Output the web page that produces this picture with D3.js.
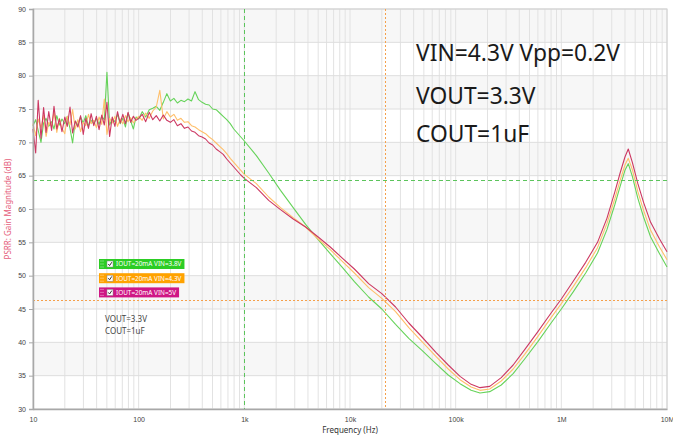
<!DOCTYPE html>
<html>
<head>
<meta charset="utf-8">
<script src="https://cdn.jsdelivr.net/npm/d3@7"></script>
<style>
  html, body { margin: 0; padding: 0; background: #fff; }
  svg { display: block; font-family: "Noto Sans", "Open Sans", sans-serif; }
</style>
</head>
<body>
<svg id="chart" width="673" height="443"></svg>
<script>
// frequency grid (Hz), shared by the three traces
var freqs = [
  10.0, 10.6, 11.2, 11.9, 12.6, 13.3, 14.1, 15.0, 15.8, 16.8,
  17.8, 18.8, 20.0, 21.1, 22.4, 23.7, 25.1, 26.6, 28.2, 29.9,
  31.6, 33.5, 35.5, 37.6, 39.8, 42.2, 44.7, 47.3, 50.1, 53.1,
  56.2, 59.6, 63.1, 66.8, 70.8, 75.0, 79.4, 84.1, 89.1, 94.4,
  100, 108, 116.6, 125.9, 136, 146.8, 158.5, 171.1, 184.8, 199.5,
  215.4, 232.6, 251.2, 271.3, 292.9, 316.2, 341.5, 368.7, 398.1, 429.9,
  464.2, 501.2, 541.2, 584.4, 631, 681.3, 735.6, 794.3, 857.7, 926.1,
  1000, 1300, 1700, 2200, 2900, 3800, 5000, 6500, 8500, 11000,
  15000, 20000, 27000, 36000, 48000, 65000, 85000, 110000, 140000, 170000,
  210000, 270000, 350000, 450000, 600000, 800000, 1e6, 1.3e6, 1.7e6, 2.2e6,
  2.7e6, 3.2e6, 3.6e6, 4e6, 4.3e6, 4.7e6, 5.3e6, 6e6, 7e6, 8.5e6, 1e7
];

// PSRR (dB), VIN=3.8V
var psrrVin38 = [
  72.5, 73.4, 71.8, 70.0, 72.9, 73.6, 72.4, 73.1, 72.0, 74.0,
  72.6, 73.5, 72.8, 73.9, 72.1, 69.9, 73.2, 72.6, 73.8, 72.9,
  74.0, 72.5, 73.3, 72.8, 73.6, 72.7, 73.9, 73.4, 80.5, 72.6,
  73.5, 73.1, 74.2, 72.8, 73.6, 72.3, 74.4, 73.2, 72.0, 73.8,
  73.5, 74.6, 73.8, 74.9, 75.1, 75.4, 74.8, 76.0, 77.3, 76.2,
  76.6, 75.9, 76.3, 76.1, 76.5, 76.2, 77.6, 76.4, 76.0, 75.7,
  75.6, 75.0, 74.9, 74.4, 73.9, 73.4, 72.8, 72.0, 71.4, 70.8,
  70.2, 68.0, 65.4, 62.8, 60.2, 57.7, 55.4, 53.3, 51.2, 49.1,
  46.8, 45.0, 42.7, 40.6, 38.8, 36.8, 35.1, 33.8, 32.8, 32.4,
  32.6, 33.6, 35.3, 37.5, 40.1, 42.9, 45.0, 47.6, 50.4, 53.4,
  56.9, 60.6, 63.4, 65.8, 66.8, 64.9, 61.6, 58.8, 55.8, 53.3, 51.3
];

// PSRR (dB), VIN=4.3V
var psrrVin43 = [
  72.8, 71.0, 73.5, 72.2, 74.1, 70.9, 73.0, 72.4, 74.6, 71.5,
  73.6, 72.1, 71.3, 73.9, 72.6, 74.9, 72.0, 73.4, 71.6, 73.0,
  72.5, 74.2, 72.8, 73.3, 72.2, 73.8, 72.7, 76.5, 71.2, 73.6,
  72.9, 73.9, 72.4, 73.5, 72.8, 74.0, 73.1, 73.7, 72.9, 73.5,
  73.9, 73.3, 74.4, 73.6, 74.7, 75.3, 77.8, 73.5, 74.6, 73.8,
  74.2, 73.3, 73.6, 73.0, 73.1, 72.5, 72.3, 71.9, 71.6, 71.3,
  70.8, 70.4, 69.9, 69.4, 68.9, 68.3, 67.6, 67.0, 66.4, 65.8,
  65.2, 63.8, 61.8, 60.2, 58.7, 57.3, 55.5, 53.9, 52.1, 50.4,
  48.2, 46.6, 44.6, 42.2, 40.1, 37.9, 36.0, 34.4, 33.3, 32.8,
  33.0, 34.2, 36.0, 38.2, 40.9, 43.7, 45.8, 48.4, 51.2, 54.2,
  57.8, 61.5, 64.3, 66.6, 67.6, 65.9, 62.6, 59.8, 56.8, 54.3, 52.4
];

// PSRR (dB), VIN=5V
var psrrVin5 = [
  72.0, 68.4, 76.3, 70.6, 75.2, 71.5, 74.6, 71.8, 75.4, 72.0,
  73.5, 71.6, 73.8, 72.4, 75.3, 71.4, 73.2, 72.3, 74.0, 71.2,
  73.6, 72.1, 74.3, 72.5, 73.9, 71.9, 74.1, 72.6, 76.0, 70.9,
  73.8, 72.4, 74.6, 72.9, 74.2, 72.8, 74.5, 73.0, 73.9, 73.3,
  73.6, 74.2, 73.1, 74.5, 73.4, 74.0, 73.2, 74.1, 73.3, 73.0,
  73.4, 72.5, 72.8, 72.1, 72.3, 71.7, 71.5, 71.0, 70.8, 70.5,
  69.9, 69.6, 69.0, 68.6, 68.2, 67.5, 66.9, 66.3, 65.7, 65.1,
  64.6, 63.2, 61.3, 59.9, 58.5, 57.3, 55.8, 54.3, 52.6, 51.0,
  48.8, 47.3, 45.3, 42.9, 40.8, 38.5, 36.6, 34.9, 33.7, 33.2,
  33.4, 34.7, 36.6, 38.9, 41.6, 44.4, 46.5, 49.2, 52.0, 55.0,
  58.6, 62.5, 65.4, 67.8, 69.0, 67.0, 63.8, 61.0, 58.0, 55.5, 53.6
];

var seriesNames = ['IOUT=20mA VIN=3.8V', 'IOUT=20mA VIN=4.3V', 'IOUT=20mA VIN=5V'];
var xTickValues = [10, 100, 1e3, 1e4, 1e5, 1e6, 1e7];
var xTickLabels = ['10', '100', '1k', '10k', '100k', '1M', '10M'];
var yTickValues = [30, 35, 40, 45, 50, 55, 60, 65, 70, 75, 80, 85, 90];
// cursor markers: green at 1kHz / 64.3dB, orange at 21.4kHz / 46.4dB
var markerFreqs = [1000, 21400];
var markerLevels = [64.3, 46.4];
var notes = ['VIN=4.3V Vpp=0.2V', 'VOUT=3.3V', 'COUT=1uF'];
var smallNotes = ['VOUT=3.3V', 'COUT=1uF'];

var lineColors = ['#66d35a', '#ffbf6a', '#cc3862'];
var legendColors = ['#2ccd24', '#ffa200', '#cf1785'];
var markerColors = ['#5cc45c', '#f5a04a'];

drawChart();

function drawChart() {
  var svg = d3.select('#chart');
  var pLeft = 33, pRight = 667, pTop = 9, pBottom = 409;

  var x = d3.scaleLog().domain([10, 1e7]).range([pLeft, pRight]);
  var y = d3.scaleLinear().domain([30, 90]).range([pBottom, pTop]);

  // alternating bands
  var bands = yTickValues.slice(0, -1).filter(function(d, i) { return i % 2 === 1; });
  svg.append('g').selectAll('rect').data(bands).enter().append('rect')
    .attr('x', pLeft).attr('width', pRight - pLeft)
    .attr('y', function(d) { return y(d + 5); })
    .attr('height', function(d) { return y(d) - y(d + 5); })
    .attr('fill', '#f7f7f7');

  // vertical grid, 1..9 per decade
  var minor = [];
  for (var dec = 10; dec < 1e7; dec *= 10) {
    for (var k = 1; k < 10; k++) minor.push(dec * k);
  }
  minor.push(1e7);
  svg.append('g').selectAll('line').data(minor).enter().append('line')
    .attr('x1', function(d) { return x(d); }).attr('x2', function(d) { return x(d); })
    .attr('y1', pTop).attr('y2', pBottom)
    .attr('stroke', '#e2e2e2').attr('stroke-width', 1);

  svg.append('g').selectAll('line').data(yTickValues).enter().append('line')
    .attr('x1', pLeft).attr('x2', pRight)
    .attr('y1', function(d) { return y(d); }).attr('y2', function(d) { return y(d); })
    .attr('stroke', '#dedede').attr('stroke-width', 1);

  svg.append('rect')
    .attr('x', pLeft).attr('y', pTop).attr('width', pRight - pLeft).attr('height', pBottom - pTop)
    .attr('fill', 'none').attr('stroke', '#d0d0d0');

  // traces
  var line = d3.line()
    .x(function(d) { return x(d[0]); })
    .y(function(d) { return y(d[1]); });
  [psrrVin38, psrrVin43, psrrVin5].forEach(function(vals, i) {
    svg.append('path')
      .datum(freqs.map(function(f, j) { return [f, vals[j]]; }))
      .attr('d', line)
      .attr('fill', 'none')
      .attr('stroke', lineColors[i])
      .attr('stroke-width', 1.1)
      .attr('stroke-linejoin', 'round');
  });

  // cursors
  var dashes = ['4,3', '2,2'];
  markerFreqs.forEach(function(f, i) {
    var px = Math.round(x(f)) + 0.5, py = Math.round(y(markerLevels[i])) + 0.5;
    svg.append('line')
      .attr('x1', px).attr('x2', px).attr('y1', pTop).attr('y2', pBottom)
      .attr('stroke', markerColors[i]).attr('stroke-width', 1)
      .attr('stroke-dasharray', dashes[i]);
    svg.append('line')
      .attr('x1', pLeft).attr('x2', pRight).attr('y1', py).attr('y2', py)
      .attr('stroke', markerColors[i]).attr('stroke-width', 1)
      .attr('stroke-dasharray', dashes[i]);
  });

  // axes
  var yAxis = svg.append('g')
    .attr('transform', 'translate(' + pLeft + ',0)')
    .call(d3.axisLeft(y).tickValues(yTickValues).tickSize(4).tickPadding(3).tickFormat(d3.format('d')));
  var xAxis = svg.append('g')
    .attr('transform', 'translate(0,' + pBottom + ')')
    .call(d3.axisBottom(x).tickValues(xTickValues).tickSize(0).tickPadding(8)
      .tickFormat(function(d, i) { return xTickLabels[i]; }));
  [yAxis, xAxis].forEach(function(a) {
    a.select('.domain').attr('stroke', '#a8a8a8').attr('stroke-width', 1.5);
    a.selectAll('.tick line').attr('stroke', '#a8a8a8');
    a.selectAll('.tick text').attr('fill', '#444').style('font-size', '7px');
  });

  svg.append('text')
    .attr('transform', 'translate(11,' + ((pTop + pBottom) / 2) + ') rotate(-90)')
    .attr('text-anchor', 'middle')
    .attr('fill', '#e5607c')
    .style('font-size', '8px')
    .text('PSRR: Gain Magnitude (dB)');

  svg.append('text')
    .attr('x', (pLeft + pRight) / 2).attr('y', 433)
    .attr('text-anchor', 'middle')
    .attr('fill', '#333')
    .style('font-size', '8px')
    .text('Frequency (Hz)');

  // legend
  seriesNames.forEach(function(name, i) {
    var g = svg.append('g').attr('transform', 'translate(99,' + (259 + i * 14.2) + ')');
    var box = g.append('rect').attr('height', 10).attr('fill', legendColors[i]);
    [2, 5, 8].forEach(function(dy) {
      g.append('rect').attr('x', 1.5).attr('y', dy - 0.5).attr('width', 1).attr('height', 1).attr('fill', '#fff').attr('opacity', 0.7);
      g.append('rect').attr('x', 3.5).attr('y', dy - 0.5).attr('width', 1).attr('height', 1).attr('fill', '#fff').attr('opacity', 0.7);
    });
    g.append('rect').attr('x', 8).attr('y', 2).attr('width', 6).attr('height', 6)
      .attr('fill', '#fff').attr('stroke', '#888').attr('stroke-width', 0.5);
    g.append('path').attr('d', 'M9.3,5 L10.6,6.6 L12.8,3.2')
      .attr('fill', 'none').attr('stroke', '#333').attr('stroke-width', 1);
    var label = g.append('text').attr('x', 17).attr('y', 7.4)
      .attr('fill', '#fff').style('font-size', '6.4px')
      .text(name);
    box.attr('width', 17 + label.node().getComputedTextLength() + 3);
  });

  smallNotes.forEach(function(t, i) {
    svg.append('text').attr('x', 105).attr('y', 322 + i * 12)
      .attr('fill', '#444').style('font-size', '8px').text(t);
  });

  var noteY = [61, 104, 142];
  notes.forEach(function(t, i) {
    svg.append('text').attr('x', 416).attr('y', noteY[i])
      .attr('fill', '#1a1a1a').style('font-size', '22.8px').text(t);
  });
}
</script>
</body>
</html>
